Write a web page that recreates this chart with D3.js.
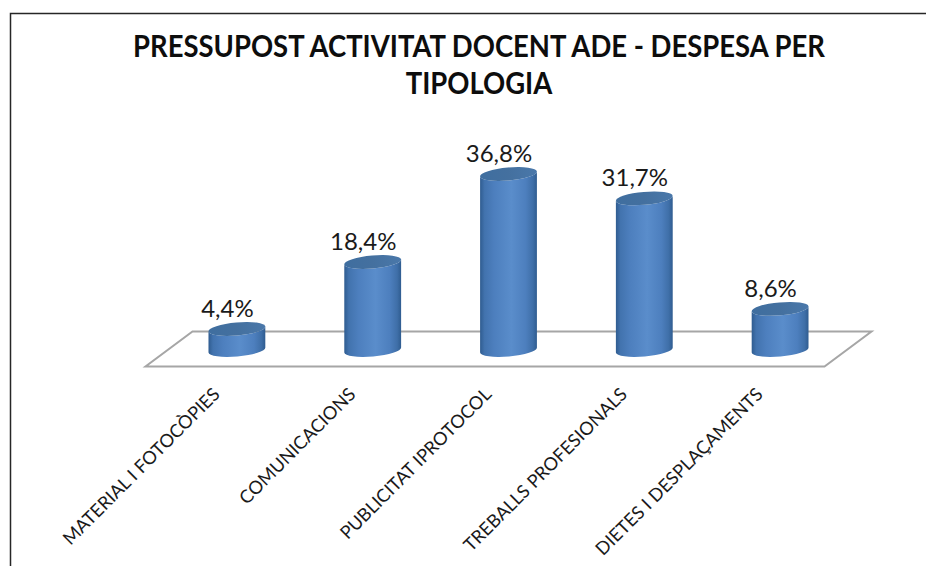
<!DOCTYPE html>
<html>
<head>
<meta charset="utf-8">
<script src="https://cdn.jsdelivr.net/npm/d3@7"></script>
<style>
	html, body { margin: 0; padding: 0; background: #fff; }
	svg { display: block; }
</style>
</head>
<body>
<div id="chart"></div>
<script>

const viewWidth = 926 ;
const viewHeight = 566 ;

const categories = [ "MATERIAL I FOTOCÒPIES", "COMUNICACIONS", "PUBLICITAT IPROTOCOL", "TREBALLS PROFESIONALS", "DIETES I DESPLAÇAMENTS" ] ;
const values = [ 4.4, 18.4, 36.8, 31.7, 8.6 ] ;
const valueLabels = [ "4,4%", "18,4%", "36,8%", "31,7%", "8,6%" ] ;
const titleLines = [ "PRESSUPOST ACTIVITAT DOCENT ADE - DESPESA PER", "TIPOLOGIA" ] ;

const fontFamily = "Lato, 'Open Sans', sans-serif" ;

const svg = d3.select( "#chart" ).append("svg")
	.attr("width", viewWidth)
	.attr("height", viewHeight)
	.attr("viewBox", "0 0 926 566")

// gradients for the cylinders
const defs = svg.append("defs")

const sideGrad = defs.append("linearGradient").attr("id", "side").attr("x1", "0").attr("x2", "1").attr("y1", "0").attr("y2", "0")
sideGrad.selectAll("stop")
	.data( [ [0, "#2f5c90"], [0.08, "#4273ae"], [0.25, "#4d7fbe"], [0.55, "#5a8dcb"], [0.8, "#4d7fbe"], [0.93, "#3f6fa8"], [1, "#2f5c90"] ] )
	.enter().append("stop")
		.attr("offset", function(d) { return d[0] })
		.attr("stop-color", function(d) { return d[1] })

const topGrad = defs.append("linearGradient").attr("id", "top").attr("x1", "0").attr("x2", "1").attr("y1", "0").attr("y2", "0")
topGrad.selectAll("stop")
	.data( [ [0, "#3f6e9f"], [0.5, "#44709f"], [1, "#4a78aa"] ] )
	.enter().append("stop")
		.attr("offset", function(d) { return d[0] })
		.attr("stop-color", function(d) { return d[1] })

// outer frame, only top and left are visible
svg.append("path")
	.attr("d", "M10.5,566 V13.5 H926")
	.attr("fill", "none")
	.attr("stroke", "#262626")
	.attr("stroke-width", 1.5)

// the title font of the original is narrower, so squeeze it a bit
svg.append("g").attr("class", "title")
	.selectAll("text")
	.data( titleLines )
	.enter().append("text")
		.attr("transform", function(d, i) { return "translate(479," + (57 + i*37) + ") scale(0.9,1)" })
		.attr("text-anchor", "middle")
		.attr("font-family", fontFamily)
		.attr("font-weight", "bold")
		.attr("font-size", 30.5)
		.attr("fill", "#0d0d0d")
		.text( function(d) { return d } )

const x = d3.scaleBand().domain( categories ).range( [ 169, 848 ] ).paddingInner(0.58).paddingOuter(0.29)
const y = d3.scaleLinear().domain( [ 0, 36.8 ] ).range( [ 350, 174 ] )

// floor of the 3d plot
const floorFront = 366.5
const floorBack = 331.5
const floorSkew = 23.5
const floorPoints = [
	[ x.range()[0] - floorSkew, floorFront ],
	[ x.range()[1] - floorSkew, floorFront ],
	[ x.range()[1] + floorSkew, floorBack ],
	[ x.range()[0] + floorSkew, floorBack ]
]
svg.append("path")
	.attr("d", d3.line()( floorPoints ) + "Z")
	.attr("fill", "none")
	.attr("stroke", "#a6a6a6")
	.attr("stroke-width", 2)

// category labels
const axis = svg.append("g")
	.attr("transform", "translate(0," + floorFront + ")")
	.call( d3.axisBottom( x ).tickSize(0) )

axis.select(".domain").remove()
axis.selectAll("text")
	.attr("font-family", fontFamily)
	.attr("font-size", 18.2)
	.attr("fill", "#1a1a1a")
	.attr("text-anchor", "end")
	.attr("dy", null)
	.attr("y", 0)
	.attr("transform", "translate(-16,29) rotate(-45)")

// cylinders
const tilt = -5
const tiltRad = tilt * Math.PI / 180
const ry = 6.5

function centerX(i) { return x( categories[i] ) + x.bandwidth()/2 }

function sidePath(i) {
	const rx = x.bandwidth()/2
	const dx = rx * Math.cos( tiltRad )
	const dy = rx * Math.sin( tiltRad )
	const cx = centerX(i)
	const yt = y( values[i] )
	const yb = y( 0 )
	return "M" + (cx-dx) + "," + (yt-dy) +
		" A" + rx + "," + ry + " " + tilt + " 0 0 " + (cx+dx) + "," + (yt+dy) +
		" L" + (cx+dx) + "," + (yb+dy) +
		" A" + rx + "," + ry + " " + tilt + " 0 1 " + (cx-dx) + "," + (yb-dy) + " Z"
}

const bars = svg.append("g").attr("class", "bars")
	.selectAll("g")
	.data( values )
	.enter().append("g")

bars.append("path")
	.attr("d", function(d, i) { return sidePath(i) })
	.attr("fill", "url(#side)")

bars.append("ellipse")
	.attr("rx", x.bandwidth()/2)
	.attr("ry", ry)
	.attr("fill", "url(#top)")
	.attr("transform", function(d, i) { return "translate(" + centerX(i) + "," + y(d) + ") rotate(" + tilt + ")" })

bars.append("text")
	.attr("x", function(d, i) { return centerX(i) - 9.5 })
	.attr("y", function(d) { return y(d) - 12 })
	.attr("text-anchor", "middle")
	.attr("font-family", fontFamily)
	.attr("font-size", 24)
	.attr("fill", "#1a1a1a")
	.text( function(d, i) { return valueLabels[i] } )

</script>
</body>
</html>
